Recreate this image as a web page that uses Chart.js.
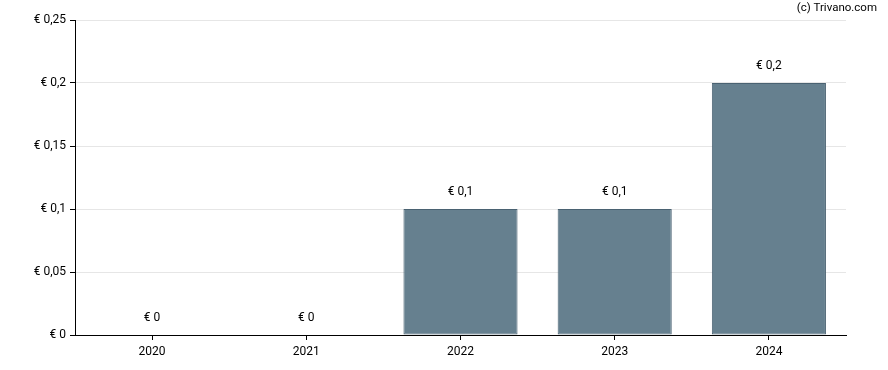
<!DOCTYPE html>
<html><head><meta charset="utf-8">
<script src="https://cdn.jsdelivr.net/npm/chart.js@4/dist/chart.umd.min.js"></script>
<style>html,body{margin:0;padding:0;background:#fff}#wrap{position:relative;width:888px;height:370px}</style>
</head><body><div id="wrap"><canvas id="c" width="888" height="370"></canvas></div>
<script>
const categories = ['2020','2021','2022','2023','2024'];
const values = [0, 0, 0.1, 0.1, 0.2];
const valueLabels = ['€ 0','€ 0','€ 0,1','€ 0,1','€ 0,2'];
const yTicks = [0, 0.05, 0.1, 0.15, 0.2, 0.25];
const credit = '(c) Trivano.com';

const fmt = v => '€ ' + String(Math.round(v*100)/100).replace('.', ',');

const labelPlugin = {
  id: 'vlabels',
  afterDatasetsDraw(chart) {
    const ctx = chart.ctx;
    const meta = chart.getDatasetMeta(0);
    ctx.save();
    ctx.font = '12px Roboto';
    ctx.fillStyle = '#000';
    ctx.textAlign = 'center';
    ctx.textBaseline = 'middle';
    meta.data.forEach((bar, i) => {
      ctx.fillText(valueLabels[i], bar.x, bar.y - 17);
    });
    ctx.font = '11.5px Roboto';
    ctx.textAlign = 'right';
    ctx.fillText(credit, 877, 8);
    ctx.restore();
  }
};

new Chart(document.getElementById('c'), {
  type: 'bar',
  data: {
    labels: categories,
    datasets: [{
      data: values,
      backgroundColor: '#66808f',
      borderColor: '#4a6272',
      borderWidth: 1,
      borderSkipped: false,
      barPercentage: 0.74,
      categoryPercentage: 1
    }]
  },
  options: {
    responsive: false,
    animation: false,
    layout: { padding: { top: 20, right: 42, left: 0, bottom: 0 } },
    plugins: { legend: { display: false }, tooltip: { enabled: false } },
    scales: {
      x: {
        grid: { display: true, drawOnChartArea: false, drawTicks: true, tickLength: 5, offset: false, color: '#000' },
        border: { display: true, color: '#000', width: 1 },
        ticks: { color: '#000', font: { family: 'Roboto', size: 12 }, padding: 5, maxRotation: 0 },
        afterFit(s) { s.height = 35; }
      },
      y: {
        min: 0, max: 0.25,
        afterBuildTicks(s) { s.ticks = yTicks.map(v => ({ value: v })); },
        grid: { color: '#e6e6e6', drawTicks: true, tickLength: 5, tickColor: '#000' },
        border: { display: true, color: '#000', width: 1 },
        ticks: { color: '#000', font: { family: 'Roboto', size: 12 }, padding: 4, callback: v => fmt(v) },
        afterFit(s) { s.width = 75; }
      }
    }
  },
  plugins: [labelPlugin]
});
</script></body></html>
